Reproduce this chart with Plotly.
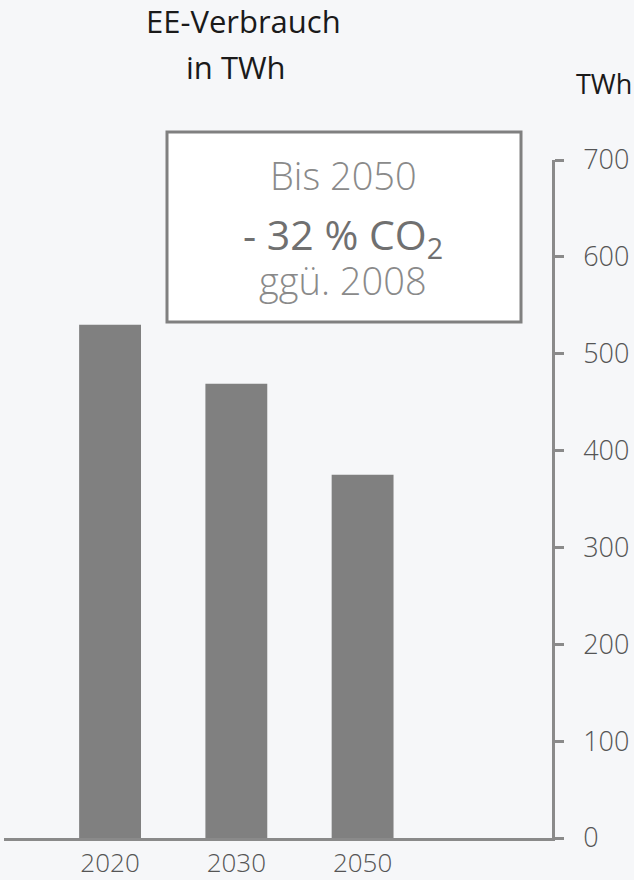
import plotly.graph_objects as go

categories = ["2020", "2030", "2050"]
values = [530, 469, 375]
y_ticks = [0, 100, 200, 300, 400, 500, 600, 700]

FONT = "Open Sans, sans-serif"
BG = "#f6f7f9"
AXIS = "#8a8a8a"

fig = go.Figure()
fig.add_trace(go.Bar(x=categories, y=values, marker=dict(color="#808080", line=dict(width=0)),
                     width=0.49, showlegend=False, hoverinfo="skip"))

fig.update_layout(
    width=634, height=880,
    margin=dict(l=4, r=82, t=160, b=42),
    paper_bgcolor=BG, plot_bgcolor=BG,
    font=dict(family=FONT, color="#555555"),
    xaxis=dict(type="category", range=[-0.84, 3.5], showgrid=False, zeroline=False,
               showline=True, linecolor=AXIS, linewidth=2.5, ticks="", automargin=False,
               tickfont=dict(family=FONT, size=26, color="#555555", weight=300),
               ticklabelstandoff=0),
    yaxis=dict(side="right", range=[0, 700], tickvals=y_ticks, showgrid=False, zeroline=False,
               showline=True, linecolor=AXIS, linewidth=2.5, ticks="outside", ticklen=9,
               tickwidth=2.5, tickcolor=AXIS, automargin=False,
               tickfont=dict(family=FONT, size=27, color="#555555", weight=300),
               ticklabelstandoff=14),
)

# Box
fig.add_shape(type="rect", xref="paper", yref="paper",
              x0=(167 - 4) / 548, x1=(521 - 4) / 548,
              y0=(838 - 322) / 678, y1=(838 - 132) / 678,
              line=dict(color="#808080", width=3), fillcolor="white", layer="above")

def px_x(p):
    return (p - 4) / 548

def px_y(p):
    return (838 - p) / 678

anns = [
    dict(text="EE-Verbrauch", x=px_x(243), y=px_y(21), size=31, color="#1a1a1a", w=400),
    dict(text="in TWh", x=px_x(236), y=px_y(67), size=31, color="#1a1a1a", w=400),
    dict(text="TWh", x=px_x(604), y=px_y(83), size=27, color="#1a1a1a", w=400),
    dict(text="Bis 2050", x=px_x(343), y=px_y(175), size=38, color="#8a8a8a", w=300),
    dict(text="- 32 % CO<sub>2</sub>", x=px_x(343), y=px_y(236), size=41, color="#707070", w=400),
    dict(text="ggü. 2008", x=px_x(343), y=px_y(280), size=38, color="#8a8a8a", w=300),
]
for a in anns:
    fig.add_annotation(text=a["text"], x=a["x"], y=a["y"], xref="paper", yref="paper",
                       xanchor="center", yanchor="middle", showarrow=False,
                       font=dict(family=FONT, size=a["size"], color=a["color"], weight=a["w"]))

fig.write_html("out.html")
